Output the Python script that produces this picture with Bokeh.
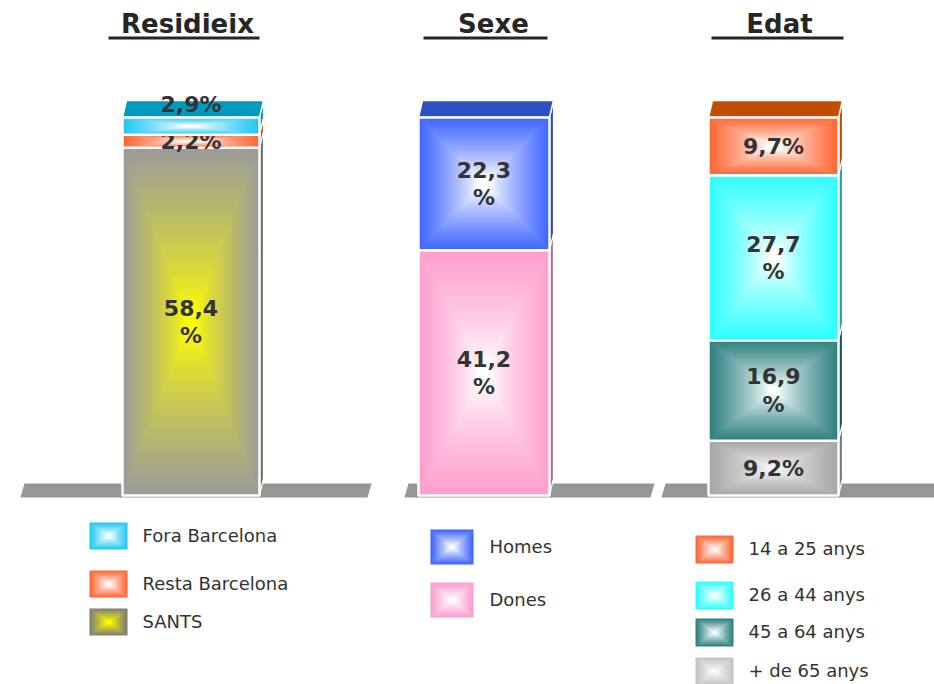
from bokeh.plotting import figure
from bokeh.models import Range1d
from bokeh.embed import file_html
from bokeh.resources import INLINE
from bokeh.core.properties import value

# ---------------- data ----------------
titles = ["Residieix", "Sexe", "Edat"]

res_labels = ["SANTS", "Resta Barcelona", "Fora Barcelona"]          # bottom -> top
res_values = [58.4, 2.2, 2.9]

sexe_labels = ["Dones", "Homes"]
sexe_values = [41.2, 22.3]

edat_labels = ["+ de 65 anys", "45 a 64 anys", "26 a 44 anys", "14 a 25 anys"]
edat_values = [9.2, 16.9, 27.7, 9.7]

# ---------------- styles ----------------
# edge colour, centre colour, side colour, top colour, gamma, centre plateau
styles = {
    "Fora Barcelona": ("#22C8F4", "#FFFFFF", "#0090B8", "#0099BF", 0.8, 0.1),
    "Resta Barcelona": ("#FF6633", "#FFFFFF", "#C04A10", "#C04D00", 0.8, 0.1),
    "SANTS": ("#9C9C98", "#FFFF00", "#707070", "#808080", 0.75, 0.06),
    "Homes": ("#3F66FF", "#FFFFFF", "#2A48B8", "#2B50C4", 0.8, 0.1),
    "Dones": ("#FF9ECE", "#FFFFFF", "#B07090", "#C080A0", 0.7, 0.1),
    "14 a 25 anys": ("#FF6633", "#FFFFFF", "#C04D00", "#C04D00", 0.8, 0.1),
    "26 a 44 anys": ("#2EFFFF", "#FFFFFF", "#20A4A4", "#20A4A4", 0.7, 0.1),
    "45 a 64 anys": ("#2F7F7F", "#F8FFFF", "#1A5656", "#1A5656", 0.8, 0.08),
    "+ de 65 anys": ("#A6A6A6", "#F6F6F6", "#787878", "#787878", 0.8, 0.08),
}
legend_styles = dict(styles)
legend_styles["SANTS"] = ("#7E7E72", "#FFFF00", "", "", 0.8, 0.1)
legend_styles["+ de 65 anys"] = ("#C4C4C4", "#FAFAFA", "", "", 0.8, 0.1)

groups = [
    (res_labels, res_values),
    (sexe_labels, sexe_values),
    (edat_labels, edat_values),
]

# pixel layout
bar_left = [122, 418, 708]
bar_width = [137, 131, 130]
title_x = [187, 493, 779]
uline = [(108, 259), (423, 547), (711, 843)]
floors = [(20, 367), (404, 650), (661, 945)]
DX = 4          # depth offset in px
DY_PX = 17      # depth offset upward in px
ZERO_Y = 495    # screen y of value 0
SCALE = 5.953   # px per percent
W, H = 934, 684

pct_end = ZERO_Y / SCALE
pct_start = pct_end - H / SCALE
DY = DY_PX / SCALE


def px2pct(dpx):
    return dpx / SCALE


def hx(c):
    c = c.lstrip("#")
    return tuple(int(c[i:i + 2], 16) for i in (0, 2, 4))


def mix(center, edge, f):
    a, b = hx(center), hx(edge)
    return "#%02x%02x%02x" % tuple(int(round(a[i] + (b[i] - a[i]) * f)) for i in range(3))


def grad_rects(x0, x1, y0, y1, edge, center, n=40, gamma=0.85, c0=0.1):
    L, R, T, B, C = [], [], [], [], []
    cx, cy = (x0 + x1) / 2, (y0 + y1) / 2
    hw, hh = (x1 - x0) / 2, (y1 - y0) / 2
    for k in range(n):
        t = 1 - k / n
        L.append(cx - hw * t)
        R.append(cx + hw * t)
        B.append(cy - hh * t)
        T.append(cy + hh * t)
        f = max(0.0, (t - c0) / (1 - c0)) ** gamma
        C.append(mix(center, edge, f))
    return L, R, T, B, C


p = figure(width=W, height=H, x_range=Range1d(0, W), y_range=Range1d(H, 0),
           x_axis_type=None, y_axis_type=None, toolbar_location=None,
           output_backend="svg", min_border=0, outline_line_color=None,
           background_fill_color="white", border_fill_color="white")
p.extra_y_ranges = {"pct": Range1d(pct_start, pct_end)}

FONT = value("DejaVu Sans")

# floors
for (a, b) in floors:
    p.patch(x=[a, b, b + DX, a + DX], y=[497, 497, 483, 483], fill_color="#969696",
            line_color=None)

# bars
for gi, (labels, vals) in enumerate(groups):
    x0 = bar_left[gi]
    x1 = x0 + bar_width[gi]
    cum = 0.0
    n = len(vals)
    for si, (lab, v) in enumerate(zip(labels, vals)):
        edge, center, side, top, gam, c0 = styles[lab]
        b, t = cum, cum + v
        # side face
        p.patch(x=[x1, x1, x1 + DX, x1 + DX], y=[b, t, t + DY, b + DY],
                fill_color=side, line_color="white", line_width=1.2, y_range_name="pct")
        # top face for top segment
        if si == n - 1:
            p.patch(x=[x0, x1, x1 + DX, x0 + DX], y=[t, t, t + DY, t + DY],
                    fill_color=top, line_color="white", line_width=1.5, y_range_name="pct")
        L, R, T, B, C = grad_rects(x0, x1, b, t, edge, center, gamma=gam, c0=c0)
        p.quad(left=L, right=R, top=T, bottom=B, fill_color=C, line_color=None,
               y_range_name="pct")
        p.quad(left=[x0], right=[x1], top=[t], bottom=[b], fill_color=None,
               line_color="white", line_width=2.5, y_range_name="pct")
        # label
        txt = ("%.1f" % v).replace(".", ",")
        mid = (b + t) / 2
        if lab == "Fora Barcelona":
            mid += px2pct(22)
        if v >= 12:
            ys = [mid + px2pct(14), mid - px2pct(14)]
            ts = [txt, "%"]
        else:
            ys = [mid]
            ts = [txt + "%"]
        p.text(x=[(x0 + x1) / 2] * len(ts), y=ys, text=ts, text_align="center",
               text_baseline="middle", text_font=FONT, text_font_style="bold",
               text_font_size="22px", text_color="#333333", y_range_name="pct")
        cum = t

# titles
for gi, ttl in enumerate(titles):
    p.text(x=[title_x[gi]], y=[23], text=[ttl], text_align="center",
           text_baseline="middle", text_font=FONT, text_font_style="bold",
           text_font_size="26px", text_color="#262626")
    a, b = uline[gi]
    p.segment(x0=[a], y0=[37.5], x1=[b], y1=[37.5], line_color="#262626", line_width=3)

# legends (top -> bottom order)
legend_layout = [
    # swatch x0, swatch w, swatch h, text x, swatch tops
    (89, 38, 27, 142, [522, 570, 608]),
    (430, 43, 35, 489, [529, 582]),
    (695, 38, 28, 748, [535, 581, 618, 657]),
]
for gi, (labels, vals) in enumerate(groups):
    sx, sw, sh, tx, tops = legend_layout[gi]
    for lab, ty in zip(list(reversed(labels)), tops):
        edge, center = legend_styles[lab][:2]
        L, R, T, B, C = grad_rects(sx, sx + sw, ty, ty + sh, edge, center, n=14, gamma=0.9)
        p.quad(left=L, right=R, top=T, bottom=B, fill_color=C, line_color=None)
        p.text(x=[tx], y=[ty + sh / 2 - 1], text=[lab], text_align="left",
               text_baseline="middle", text_font=FONT, text_font_size="18px",
               text_color="#333333")

open("out.html", "w").write(file_html(p, INLINE))
